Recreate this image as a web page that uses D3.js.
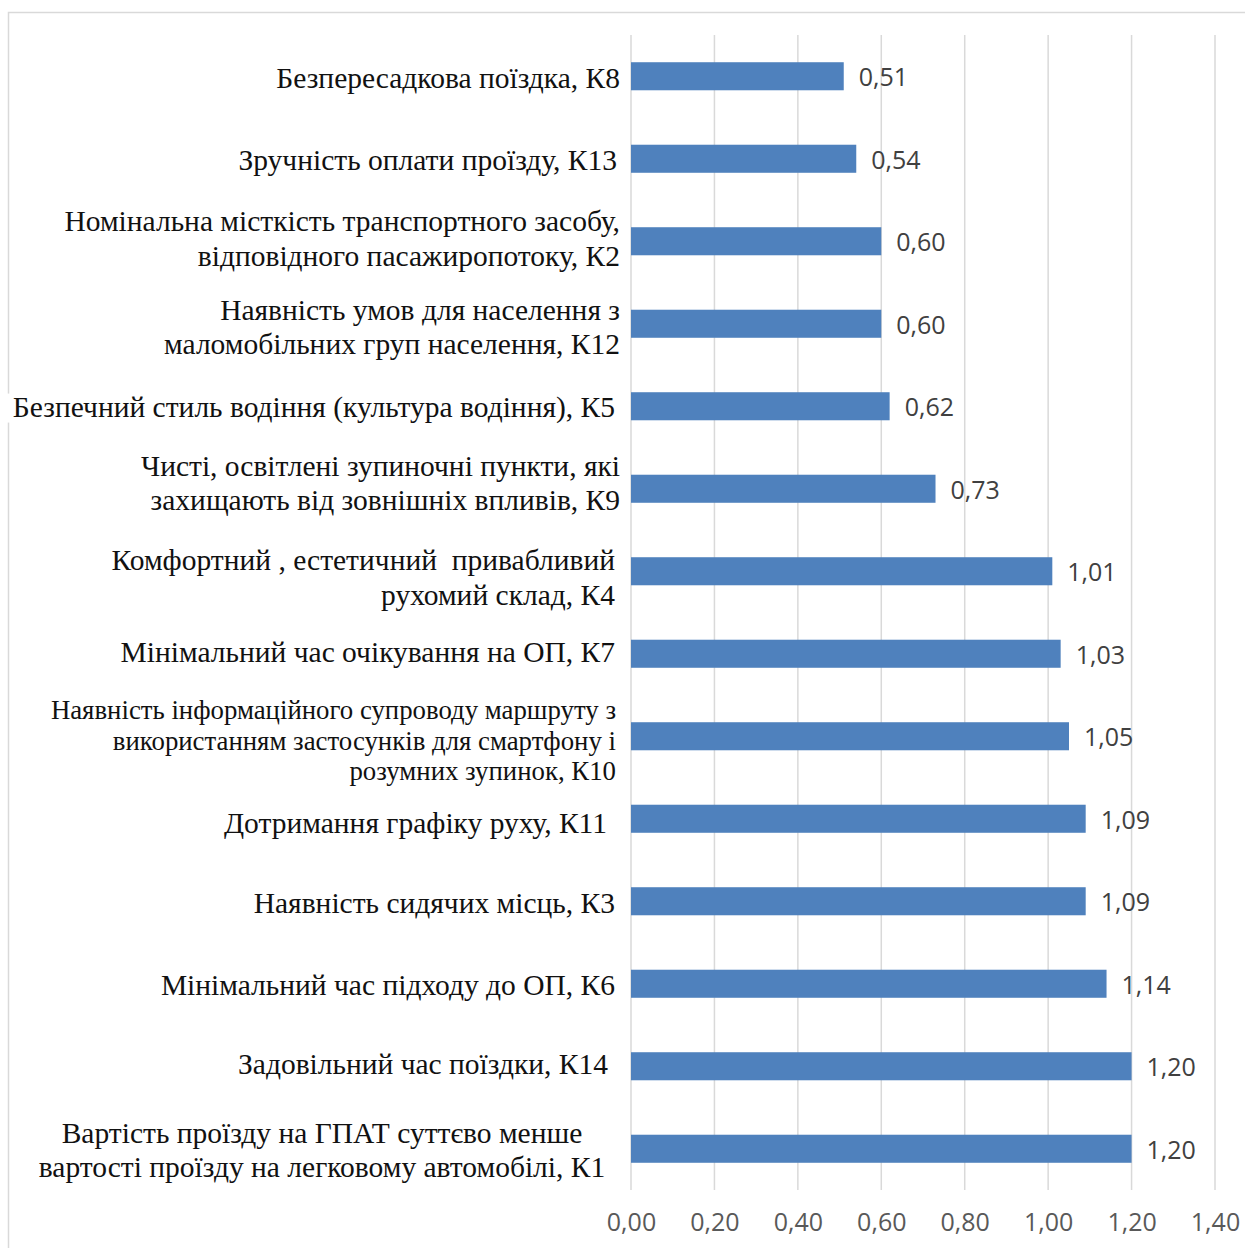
<!DOCTYPE html>
<html>
<head>
<meta charset="utf-8">
<script src="https://cdn.jsdelivr.net/npm/d3@7"></script>
<style>
  html, body { margin: 0; padding: 0; background: #fff; }
  svg { display: block; }
</style>
</head>
<body>
<svg id="chart" width="1245" height="1248"></svg>
<script>
// ---- Data ----
const codes = ["К8","К13","К2","К12","К5","К9","К4","К7","К10","К11","К3","К6","К14","К1"];
const labelLines = [
  ["Безпересадкова поїздка, К8"],
  ["Зручність оплати проїзду, К13"],
  ["Номінальна місткість транспортного засобу,", "відповідного пасажиропотоку, К2"],
  ["Наявність умов для населення з", "маломобільних груп населення, К12"],
  ["Безпечний стиль водіння (культура водіння), К5"],
  ["Чисті, освітлені зупиночні пункти, які", "захищають від зовнішніх впливів, К9"],
  ["Комфортний , естетичний  привабливий", "рухомий склад, К4"],
  ["Мінімальний час очікування на ОП, К7"],
  ["Наявність інформаційного супроводу маршруту з", "використанням застосунків для смартфону і", "розумних зупинок, К10"],
  ["Дотримання графіку руху, К11"],
  ["Наявність сидячих місць, К3"],
  ["Мінімальний час підходу до ОП, К6"],
  ["Задовільний час поїздки, К14"],
  ["Вартість проїзду на ГПАТ суттєво менше", "вартості проїзду на легковому автомобілі, К1"]
];
const values = [0.51, 0.54, 0.60, 0.60, 0.62, 0.73, 1.01, 1.03, 1.05, 1.09, 1.09, 1.14, 1.20, 1.20];
const tickValues = [0, 0.2, 0.4, 0.6, 0.8, 1.0, 1.2, 1.4];

// ---- Style (layout only) ----
const labelRight = {"К8":620,"К13":617,"К2":620,"К12":620,"К5":615,"К9":620,"К4":615,"К7":615,"К10":616,"К11":607,"К3":615,"К6":615,"К14":608};
const labelCenter = {"К1":322};
const labelFont = {"К10":26.8};
const labelShift = {"К8":0,"К13":0,"К2":-4,"К12":2,"К5":-1,"К9":-7,"К4":5,"К7":-3,"К10":3,"К11":3,"К3":0,"К6":0,"К14":-4,"К1":0};

const svg = d3.select("#chart");
const fmt = v => d3.format(".2f")(v).replace(".", ",");

// chart border
svg.append("rect").attr("x", 8.5).attr("y", 12.5).attr("width", 1260).attr("height", 1260)
  .attr("fill", "#fff").attr("stroke", "#d9d9d9").attr("stroke-width", 1.5);

const x = d3.scaleLinear().domain([0, 1.4]).range([631, 1215]);
const y = d3.scaleBand().domain(codes).range([35, 1190]).paddingInner(0.66).paddingOuter(0.33);

// gridlines
svg.append("g").selectAll("line").data(tickValues).join("line")
  .attr("x1", d => x(d)).attr("x2", d => x(d))
  .attr("y1", 35).attr("y2", 1190)
  .attr("stroke", "#d9d9d9").attr("stroke-width", 1.5);

// x axis tick labels
const xAxis = d3.axisBottom(x).tickValues(tickValues).tickFormat(fmt).tickSize(0).tickPadding(0);
const gx = svg.append("g").attr("transform", "translate(0,1222)").call(xAxis);
gx.select(".domain").remove();
gx.selectAll("text")
  .attr("dy", "0.35em").attr("y", 0)
  .attr("font-family", "'Open Sans', sans-serif").attr("font-size", 25)
  .attr("fill", "#595959");

// bars
svg.append("g").selectAll("rect").data(values).join("rect")
  .attr("x", x(0))
  .attr("y", (d, i) => y(codes[i]))
  .attr("width", d => x(d) - x(0))
  .attr("height", y.bandwidth())
  .attr("fill", "#4f81bd");

// value labels
svg.append("g").selectAll("text").data(values).join("text")
  .attr("x", d => x(d) + 15)
  .attr("y", (d, i) => y(codes[i]) + y.bandwidth() / 2 + 1)
  .attr("dy", "0.35em")
  .attr("font-family", "'Open Sans', sans-serif").attr("font-size", 25)
  .attr("fill", "#404040")
  .text(d => fmt(d));

// category labels
const lg = svg.append("g");
codes.forEach((c, i) => {
  const lines = labelLines[i];
  const fs = labelFont[c] || 29.5;
  const lh = labelFont[c] ? 30.5 : 34.5;
  const cy = y(c) + y.bandwidth() / 2 + 1 + (labelShift[c] || 0);
  const centered = labelCenter[c] !== undefined;
  const g = lg.append("g");
  const t = g.append("text")
    .attr("font-family", "'Liberation Serif', 'Times New Roman', serif")
    .attr("font-size", fs)
    .attr("fill", "#111")
    .attr("text-anchor", centered ? "middle" : "end");
  lines.forEach((ln, j) => {
    t.append("tspan")
      .attr("x", centered ? labelCenter[c] : labelRight[c])
      .attr("y", cy + (j - (lines.length - 1) / 2) * lh)
      .attr("dy", "0.35em")
      .attr("xml:space", "preserve")
      .style("white-space", "pre")
      .text(ln);
  });
  // labels that overflow onto the chart border get a white backing
  const bb = t.node().getBBox();
  if (bb.x < 20) {
    g.insert("rect", "text").attr("x", 0).attr("y", bb.y + 3)
      .attr("width", bb.x + bb.width + 4).attr("height", bb.height - 4).attr("fill", "#fff");
  }
});
</script>
</body>
</html>
